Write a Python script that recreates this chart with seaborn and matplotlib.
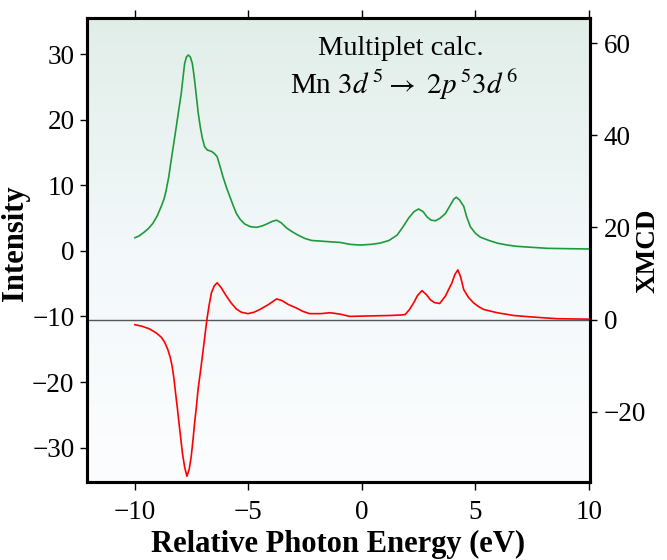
import numpy as np
import pandas as pd
import matplotlib
matplotlib.use('Agg')
import matplotlib.pyplot as plt
import seaborn as sns
from matplotlib.colors import LinearSegmentedColormap

# 스펙트럼 값
energy_int = [-10.0, -9.8, -9.57, -9.4, -9.2, -9.0, -8.83, -8.7, -8.61, -8.5,
              -8.39, -8.28, -8.17, -8.06, -7.95, -7.87, -7.8, -7.72, -7.64, -7.55,
              -7.46, -7.37, -7.28, -7.2, -7.11, -7.02, -6.92, -6.8, -6.62, -6.5,
              -6.37, -6.25, -6.11, -5.96, -5.81, -5.67, -5.52, -5.35, -5.15, -4.9,
              -4.64, -4.4, -4.19, -3.95, -3.75, -3.55, -3.31, -3.05, -2.8, -2.5,
              -2.21, -1.8, -1.4, -0.96, -0.5, -0.07, 0.4, 0.81, 1.2, 1.55,
              1.8, 2.06, 2.3, 2.5, 2.7, 2.87, 3.05, 3.24, 3.45, 3.68,
              3.9, 4.05, 4.16, 4.3, 4.49, 4.62, 4.78, 5.0, 5.22, 5.6,
              5.96, 6.4, 6.84, 7.5, 8.17, 9.0, 10.0]
intensity = [2.0, 2.3, 2.9, 3.4, 4.2, 5.4, 6.8, 8.0, 9.3, 11.3,
             13.9, 16.4, 18.9, 21.5, 24.0, 26.5, 28.6, 29.6, 29.9, 29.6,
             28.6, 26.3, 23.5, 21.0, 18.9, 17.2, 15.9, 15.4, 15.2, 14.9,
             14.4, 13.0, 11.3, 9.7, 8.3, 7.0, 5.7, 4.8, 4.1, 3.7,
             3.6, 3.8, 4.1, 4.5, 4.7, 4.3, 3.5, 2.9, 2.4, 1.9,
             1.6, 1.5, 1.4, 1.3, 1.0, 0.9, 1.0, 1.2, 1.6, 2.4,
             3.6, 5.0, 6.0, 6.4, 6.0, 5.2, 4.7, 4.6, 5.0, 5.7,
             7.0, 7.9, 8.2, 7.8, 6.8, 5.2, 3.7, 2.7, 2.1, 1.6,
             1.2, 0.9, 0.7, 0.55, 0.4, 0.35, 0.3]

energy_mcd = [-10.0, -9.7, -9.35, -9.05, -8.83, -8.68, -8.54, -8.44, -8.35, -8.27,
              -8.2, -8.12, -8.05, -7.97, -7.9, -7.8, -7.7, -7.6, -7.51, -7.43,
              -7.36, -7.28, -7.21, -7.11, -7.02, -6.92, -6.82, -6.72, -6.62, -6.5,
              -6.37, -6.2, -5.96, -5.75, -5.52, -5.3, -5.01, -4.75, -4.49, -4.1,
              -3.75, -3.5, -3.24, -2.87, -2.6, -2.3, -1.8, -1.4, -0.96, -0.52,
              0.3, 1.25, 1.7, 1.91, 2.1, 2.28, 2.45, 2.65, 2.85, 3.02,
              3.2, 3.43, 3.68, 3.85, 3.97, 4.1, 4.23, 4.35, 4.49, 4.7,
              4.93, 5.15, 5.37, 5.96, 6.69, 7.43, 8.0, 8.61, 10.0]
xmcd = [-1.1, -1.4, -2.0, -2.9, -3.8, -4.9, -6.5, -8.1, -10.1, -12.8,
        -15.9, -19.2, -22.4, -25.8, -28.9, -32.0, -34.0, -32.5, -29.7, -26.0,
        -22.4, -18.8, -15.2, -11.5, -8.0, -4.0, 0.0, 3.2, 5.8, 7.3,
        8.0, 7.0, 5.1, 3.6, 2.3, 1.6, 1.3, 1.6, 2.2, 3.3,
        4.5, 4.1, 3.3, 2.5, 1.8, 1.3, 1.3, 1.5, 1.2, 0.7,
        0.8, 0.9, 1.0, 1.1, 2.2, 3.6, 5.2, 6.3, 5.4, 4.3,
        3.7, 3.5, 5.1, 6.8, 8.0, 9.8, 10.8, 9.3, 6.5, 4.8,
        3.6, 2.8, 2.2, 1.5, 0.9, 0.6, 0.4, 0.2, 0.1]

x_ticks = [-10, -5, 0, 5, 10]
int_ticks = [-30, -20, -10, 0, 10, 20, 30]
mcd_ticks = [-20, 0, 20, 40, 60]


def main():
    sns.set_style('ticks')
    plt.rcParams['font.family'] = ['Liberation Serif', 'DejaVu Serif']
    plt.rcParams['mathtext.fontset'] = 'stix'
    plt.rcParams['axes.unicode_minus'] = True
    for k in ['text.color', 'axes.labelcolor', 'xtick.color', 'ytick.color']:
        plt.rcParams[k] = 'black'

    df_int = pd.DataFrame({'energy': energy_int, 'intensity': intensity})
    df_mcd = pd.DataFrame({'energy': energy_mcd, 'xmcd': xmcd})

    fig = plt.figure(figsize=(6.67, 5.6), dpi=100)
    ax = fig.add_axes([0.1304, 0.1388, 0.7542, 0.8285])

    # 배경 그라데이션
    cmap = LinearSegmentedColormap.from_list('bg', ['#fcfdfe', '#f3f8fa', '#e1eee8'])
    grad = np.linspace(0, 1, 256).reshape(-1, 1)
    ax.imshow(grad, cmap=cmap, aspect='auto', extent=[0, 1, 0, 1],
              transform=ax.transAxes, origin='lower', zorder=0)

    sns.lineplot(data=df_int, x='energy', y='intensity', ax=ax,
                 color='#1f9a3a', lw=1.2, sort=False, zorder=3)
    ax.set_xlim(-12.1, 10.05)
    ax.set_ylim(-35.3, 35.5)

    ax2 = ax.twinx()
    ax2.axhline(0, color='#555555', lw=1.0, zorder=2)
    sns.lineplot(data=df_mcd, x='energy', y='xmcd', ax=ax2,
                 color='#ff0000', lw=1.2, sort=False, zorder=3)
    ax2.set_ylim(-35.3, 65.4)
    ax2.set_xlim(-12.1, 10.05)

    ax.set_xticks(x_ticks)
    ax.set_yticks(int_ticks)
    ax2.set_yticks(mcd_ticks)

    for a in (ax, ax2):
        for s in a.spines.values():
            s.set_linewidth(2.2)
            s.set_color('black')

    ax.tick_params(axis='x', top=True, bottom=True, direction='out', length=6,
                   width=1.0, labelsize=19.5, pad=7)
    ax.tick_params(axis='y', left=True, right=False, direction='out', length=5,
                   width=1.0, labelsize=19.5, pad=4)
    ax2.tick_params(axis='y', right=True, direction='out', length=5, width=1.0,
                    labelsize=19.5, pad=5)

    ax.set_xlabel('Relative Photon Energy (eV)', fontsize=22, fontweight='bold', labelpad=3)
    ax.set_ylabel('Intensity', fontsize=22, fontweight='bold')
    ax.yaxis.set_label_coords(-0.113, 0.515)
    ax2.set_ylabel('XMCD', fontsize=19.5, fontweight='bold')
    ax2.yaxis.set_label_coords(1.09, 0.5)

    ax.text(0.624, 0.936, 'Multiplet calc.', transform=ax.transAxes,
            ha='center', va='center', fontsize=20.5, zorder=5)
    ax.text(0.63, 0.856, r'Mn $3d^{\,5} \rightarrow\ 2p^{\,5}3d^{\,6}$',
            transform=ax.transAxes, ha='center', va='center', fontsize=21, zorder=5)

    plt.savefig('out.png', dpi=100)
    plt.close()


if __name__ == "__main__":
    main()
